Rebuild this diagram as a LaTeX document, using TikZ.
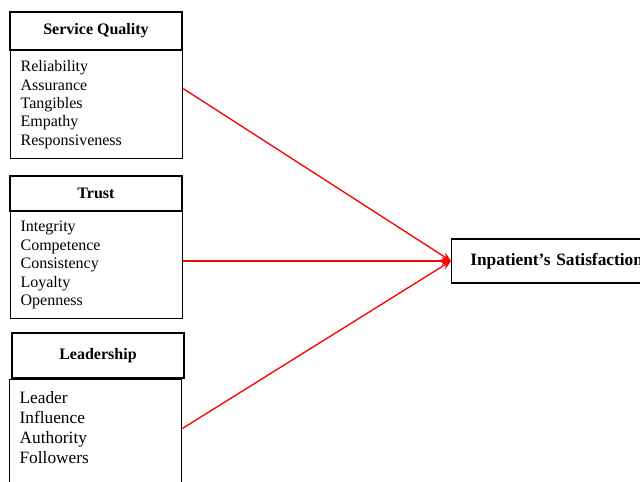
\documentclass[tikz,border=0pt]{standalone}
\usepackage{fontspec}
\setmainfont{Liberation Serif}
\usetikzlibrary{arrows.meta}

\begin{document}
\begin{tikzpicture}[
    x=0.75pt, y=-0.75pt,
    % Header boxes on top of each factor
    header/.style={
        draw,
        line width=1pt,
        fill=white,
        minimum width=129pt,
        align=center,
        font=\fontsize{12}{13.8}\selectfont\bfseries
    },
    % List of items under each header
    items/.style={
        draw,
        line width=0.9pt,
        fill=white,
        anchor=north west,
        text width=114pt,
        inner xsep=7.5pt,
        align=left,
        font=\fontsize{12}{13.8}\selectfont
    },
    % Outcome box
    outcome/.style={
        draw,
        line width=1pt,
        anchor=west,
        minimum height=33pt,
        text width=170pt,
        inner xsep=14pt,
        align=left,
        font=\fontsize{13}{15}\selectfont\bfseries
    },
    % Arrow style
    link/.style={red, line width=1pt, -{Stealth[length=7pt,width=6pt]}}
    ]

    \useasboundingbox (0,0) rectangle (640,482);

    % Service quality
    \node[header, minimum height=28.5pt] (sqhead) at (96,31) {Service Quality};
    \node[items, minimum height=81pt] (sqbody) at (10,50) {Reliability\\Assurance\\Tangibles\\Empathy\\Responsiveness};

    % Trust
    \node[header, minimum height=26.25pt] (trhead) at (96,193.5) {Trust};
    \node[items, minimum height=80.25pt] (trbody) at (10,211) {Integrity\\Competence\\Consistency\\Loyalty\\Openness};

    % Leadership - box runs off the bottom
    \node[header, minimum height=33.75pt] (ldhead) at (98,355.5) {Leadership};
    \node[items, inner ysep=9pt,
          font=\fontsize{13}{15}\selectfont] (ldbody) at (9,379) {Leader\\Influence\\Authority\\Followers\\[24pt]\mbox{}};

    % Satisfaction
    \node[outcome] (sat) at (451,261) {Inpatient’s Satisfaction};

    % Arrows into the outcome
    \draw[link] ([yshift=12pt]sqbody.east) -- (sat.west);
    \draw[link] (trbody.east |- sat.west) -- (sat.west);
    \draw[link] ([yshift=18.75pt]ldbody.east) -- (sat.west);

\end{tikzpicture}
\end{document}
